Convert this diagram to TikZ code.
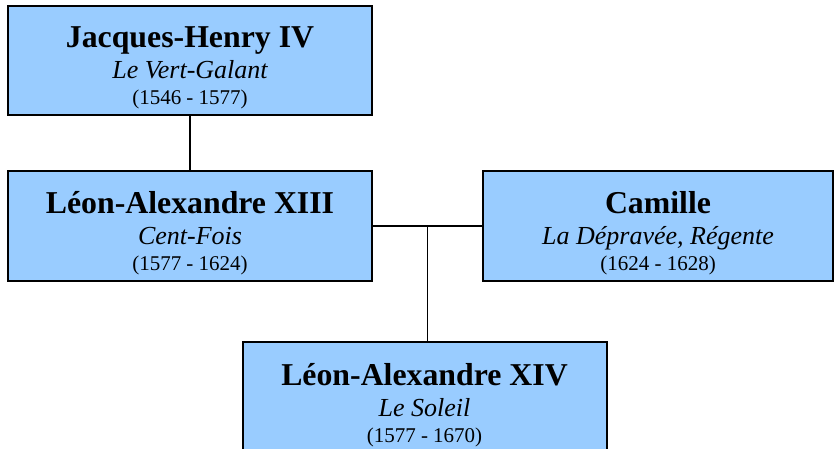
\documentclass[tikz,border=0pt]{standalone}
\usepackage{fontspec}
\setmainfont{Liberation Serif}
\usepackage{tikz}
\usetikzlibrary{positioning}
\usetikzlibrary{calc}
\definecolor{kingblue}{HTML}{99CCFF}
% struts fix the baseline distances of the three lines
\newcommand{\kname}[1]{{\fontsize{31.8}{36}\selectfont\bfseries\rule[-8pt]{0pt}{45pt}#1}}
\newcommand{\kepithet}[1]{{\fontsize{26}{31}\selectfont\itshape\rule[-8pt]{0pt}{30pt}#1}}
\newcommand{\kyears}[1]{{\fontsize{21}{25}\selectfont\rule[-6pt]{0pt}{23pt}#1}}
\tikzset{
    king/.style={draw, line width=2pt, fill=kingblue, align=center,
        inner sep=0pt, minimum width=364pt, minimum height=109pt},
    link/.style={line width=1.7pt}
}

\begin{document}
\begin{tikzpicture}[x=1pt, y=-1pt]
    \useasboundingbox (0,0) rectangle (835,449);
    \node(JH)[king] at (190,61) {\kname{Jacques-Henry IV}\\ \kepithet{Le Vert-Galant}\\ \kyears{(1546 - 1577)}};
    \node(LA13)[king, below=54pt of JH] {\kname{Léon-Alexandre XIII}\\ \kepithet{Cent-Fois}\\ \kyears{(1577 - 1624)}};
    \node(Cam)[king, minimum width=350pt, right=109pt of LA13] {\kname{Camille}\\ \kepithet{La Dépravée, Régente}\\ \kyears{(1624 - 1628)}};
    \coordinate(mid) at ($(LA13.east)!0.5!(Cam.west)$);
    \node(LA14)[king, minimum height=113pt, below=115pt of mid, xshift=-3pt] {\kname{Léon-Alexandre XIV}\\ \kepithet{Le Soleil}\\ \kyears{(1577 - 1670)}};

    \draw[link](JH) -- (LA13);
    \draw[link](LA13) -- (Cam);
    \draw[link](mid) -- (mid |- LA14.north);
\end{tikzpicture}
\end{document}
